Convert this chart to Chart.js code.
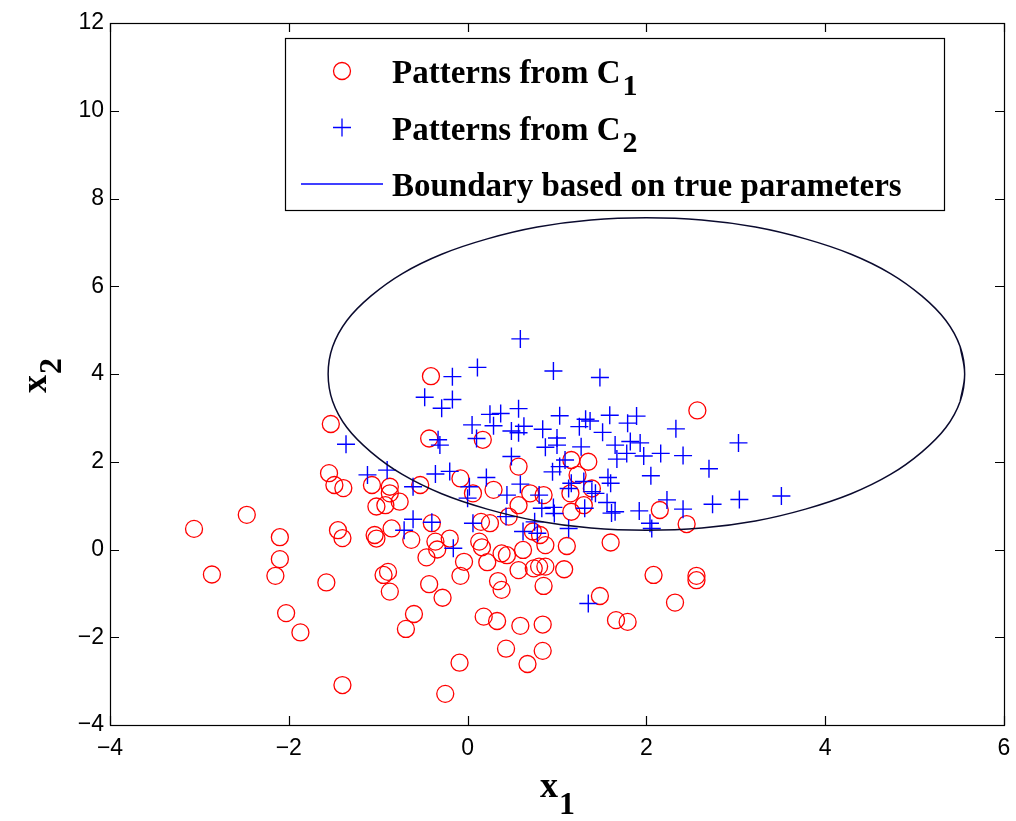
<!DOCTYPE html>
<html>
<head>
<meta charset="utf-8">
<script src="https://cdn.jsdelivr.net/npm/chart.js@4/dist/chart.umd.min.js"></script>
<style>
  body { margin: 0; background: #fff; }
  canvas { display: block; }
</style>
</head>
<body>
<canvas id="scatter" width="1016" height="821"></canvas>
<script>
// patterns from class C1 (red circles), [x1, x2]
var class1Points = [
  [-3.06, 0.47], [-2.47, 0.79], [-2.86, -0.57], [-2.10, 0.28], [-2.10, -0.22],
  [-2.15, -0.60], [-2.03, -1.45], [-1.87, -1.89], [-1.58, -0.75], [-1.40, -3.09],
  [-1.53, 2.86], [-1.55, 1.74], [-1.49, 1.47], [-1.39, 1.40], [-1.45, 0.44],
  [-1.40, 0.26], [-1.07, 1.47], [-0.87, 1.43], [-0.87, 1.28], [-0.76, 1.09],
  [-1.02, 0.98], [-0.92, 1.01], [-1.04, 0.33], [-1.02, 0.25], [-0.85, 0.48],
  [-0.53, 1.47], [-0.08, 1.62], [-0.41, 3.95], [-0.43, 2.53], [0.17, 2.50],
  [-0.40, 0.60], [-0.63, 0.22], [-0.36, 0.18], [-0.20, 0.25], [-0.34, 0.00],
  [0.13, 0.18], [0.16, 0.05], [-0.46, -0.18], [-0.04, -0.28], [0.22, -0.29],
  [0.38, -0.09], [0.44, -0.13], [0.62, -0.01], [-0.94, -0.58], [-0.89, -0.51],
  [-0.87, -0.96], [-0.08, -0.60], [0.34, -0.72], [-0.43, -0.79], [0.38, -0.92],
  [0.85, -0.83], [0.74, -0.43], [0.80, -0.39], [0.87, -0.39], [0.57, -0.47],
  [1.08, -0.45], [-0.28, -1.10], [-0.60, -1.47], [-0.69, -1.81], [0.18, -1.53],
  [0.33, -1.63], [0.59, -1.74], [0.84, -1.71], [0.43, -2.26], [0.84, -2.31],
  [0.67, -2.61], [-0.09, -2.58], [-0.25, -3.29], [0.06, 1.28], [0.29, 1.36],
  [0.57, 1.89], [0.70, 1.28], [0.85, 1.24], [0.57, 1.01], [1.16, 2.04],
  [1.35, 2.00], [1.23, 1.70], [1.39, 1.39], [1.15, 1.28], [1.30, 1.01],
  [1.16, 0.86], [0.15, 0.63], [0.25, 0.60], [0.46, 0.75], [0.73, 0.41],
  [0.81, 0.33], [0.87, 0.10], [1.11, 0.08], [2.57, 3.17], [2.15, 0.90],
  [2.45, 0.58], [1.60, 0.16], [2.08, -0.58], [2.56, -0.60], [2.56, -0.70],
  [1.48, -1.06], [2.32, -1.21], [1.66, -1.61], [1.79, -1.65]
];

// patterns from class C2 (blue crosses)
var class2Points = [
  [0.59, 4.80], [0.11, 4.15], [0.96, 4.07], [1.48, 3.92], [-0.17, 3.94],
  [-0.48, 3.47], [-0.17, 3.42], [-0.29, 3.22], [0.57, 3.21], [0.25, 3.08],
  [0.37, 3.10], [1.03, 3.05], [0.05, 2.84], [0.29, 2.82], [0.63, 2.81],
  [0.49, 2.70], [0.57, 2.66], [0.84, 2.74], [1.25, 2.80], [1.32, 2.97],
  [1.37, 2.93], [-0.33, 2.50], [-0.31, 2.38], [0.10, 2.53], [1.00, 2.54],
  [0.87, 2.33], [1.00, 2.38], [1.27, 2.34], [0.49, 2.12], [-0.90, 1.81],
  [-0.36, 1.72], [-0.20, 1.78], [0.21, 1.64], [0.95, 1.77], [1.03, 1.89],
  [1.09, 2.04], [1.59, 3.06], [1.89, 3.04], [1.79, 2.88], [1.51, 2.67],
  [2.33, 2.75], [1.65, 2.38], [1.82, 2.46], [1.93, 2.43], [1.78, 2.19],
  [1.67, 2.06], [1.97, 2.13], [2.16, 2.19], [2.41, 2.14], [3.03, 2.43],
  [2.70, 1.84], [2.05, 1.68], [1.57, 1.64], [1.60, 1.51], [1.39, 1.32],
  [1.43, 1.28], [1.56, 1.07], [1.61, 0.83], [1.65, 0.86], [1.92, 0.88],
  [2.23, 1.13], [2.41, 0.92], [2.74, 1.03], [3.04, 1.14], [3.51, 1.22],
  [2.04, 0.60], [2.06, 0.48], [-1.36, 2.40], [-1.12, 1.70], [0.02, 1.43],
  [0.00, 1.17], [0.59, 1.49], [0.44, 1.24], [0.80, 1.24], [1.13, 1.39],
  [1.16, 1.51], [1.30, 1.55], [0.83, 0.94], [0.96, 0.96], [0.97, 0.82],
  [1.31, 0.94], [-0.61, 1.43], [-0.61, 0.69], [-0.40, 0.62], [-0.71, 0.44],
  [0.06, 0.60], [0.43, 0.75], [0.62, 0.41], [0.75, 0.63], [0.78, 0.37],
  [1.13, 0.48], [-0.16, 0.03], [1.35, -1.23]
];

// decision boundary (ends overlap a little so the curve closes smoothly)
var boundaryX = [5.51, 5.56, 5.51, 5.35, 5.08, 4.73, 4.29, 3.78, 3.22, 2.62, 2.00, 1.38, 0.78,
  0.22, -0.29, -0.73, -1.08, -1.35, -1.51, -1.56, -1.51, -1.35, -1.08, -0.73, -0.29,
  0.22, 0.78, 1.38, 2.00, 2.62, 3.22, 3.78, 4.29, 4.73, 5.08, 5.35, 5.51, 5.56, 5.51];
var boundaryY = [3.38, 4.00, 4.62, 5.22, 5.78, 6.29, 6.73, 7.08, 7.35, 7.51, 7.56, 7.51, 7.35,
  7.08, 6.73, 6.29, 5.78, 5.22, 4.62, 4.00, 3.38, 2.78, 2.22, 1.71, 1.27,
  0.92, 0.65, 0.49, 0.44, 0.49, 0.65, 0.92, 1.27, 1.71, 2.22, 2.78, 3.38, 4.00, 4.62];

var xTicks = [-4, -2, 0, 2, 4, 6];
var yTicks = [-4, -2, 0, 2, 4, 6, 8, 10, 12];

var legendItems = [
  { text: 'Patterns from C', sub: '1', kind: 'circle' },
  { text: 'Patterns from C', sub: '2', kind: 'cross' },
  { text: 'Boundary based on true parameters', sub: '', kind: 'line' }
];

function toXY(list) {
  return list.map(function (p) { return { x: p[0], y: p[1] }; });
}
var boundaryData = boundaryX.map(function (v, i) { return { x: v, y: boundaryY[i] }; });

function minusLabel(v) {
  return v < 0 ? '\u2212' + Math.abs(v) : String(v);
}

var serifBold = "bold 33px 'Liberation Serif', 'Times New Roman', serif";

var decorPlugin = {
  id: 'decor',
  afterDraw: function (chart) {
    var ctx = chart.ctx;
    var a = chart.chartArea;
    var xs = chart.scales.x, ys = chart.scales.y;
    ctx.save();
    // box and inward ticks
    ctx.strokeStyle = '#000';
    ctx.lineWidth = 1.2;
    ctx.strokeRect(a.left + 0.5, a.top + 0.5, a.right - a.left, a.bottom - a.top);
    ctx.beginPath();
    xTicks.forEach(function (v) {
      var px = Math.round(xs.getPixelForValue(v)) + 0.5;
      ctx.moveTo(px, a.bottom); ctx.lineTo(px, a.bottom - 9);
      ctx.moveTo(px, a.top); ctx.lineTo(px, a.top + 9);
    });
    yTicks.forEach(function (v) {
      var py = Math.round(ys.getPixelForValue(v)) + 0.5;
      ctx.moveTo(a.left, py); ctx.lineTo(a.left + 9, py);
      ctx.moveTo(a.right, py); ctx.lineTo(a.right - 9, py);
    });
    ctx.stroke();

    // legend
    ctx.fillStyle = '#fff';
    ctx.fillRect(285, 38, 659, 172);
    ctx.strokeStyle = '#000';
    ctx.lineWidth = 1.2;
    ctx.strokeRect(285.5, 38.5, 659, 172);
    ctx.font = serifBold;
    ctx.textBaseline = 'alphabetic';
    legendItems.forEach(function (item, i) {
      var cy = 71 + i * 56.5;
      ctx.lineWidth = 1.3;
      if (item.kind === 'circle') {
        ctx.strokeStyle = '#ff0000';
        ctx.beginPath(); ctx.arc(342, cy, 8.5, 0, Math.PI * 2); ctx.stroke();
      } else if (item.kind === 'cross') {
        ctx.strokeStyle = '#0000ff';
        ctx.beginPath();
        ctx.moveTo(333, cy); ctx.lineTo(351, cy);
        ctx.moveTo(342, cy - 9); ctx.lineTo(342, cy + 9);
        ctx.stroke();
      } else {
        ctx.strokeStyle = '#0000ff';
        ctx.beginPath(); ctx.moveTo(301, cy); ctx.lineTo(383, cy); ctx.stroke();
      }
      ctx.fillStyle = '#000';
      ctx.font = serifBold;
      ctx.fillText(item.text, 392, cy + 12);
      if (item.sub) {
        var w = ctx.measureText(item.text).width;
        ctx.font = "bold 30px 'Liberation Serif', 'Times New Roman', serif";
        ctx.fillText(item.sub, 392 + w + 2, cy + 24);
      }
    });

    // axis titles
    ctx.fillStyle = '#000';
    ctx.font = "bold 36px 'Liberation Serif', 'Times New Roman', serif";
    ctx.fillText('x', 540, 797);
    ctx.font = "bold 32px 'Liberation Serif', 'Times New Roman', serif";
    ctx.fillText('1', 559, 814);

    ctx.translate(46, 393);
    ctx.rotate(-Math.PI / 2);
    ctx.font = "bold 36px 'Liberation Serif', 'Times New Roman', serif";
    ctx.fillText('x', 0, 0);
    ctx.font = "bold 32px 'Liberation Serif', 'Times New Roman', serif";
    ctx.fillText('2', 19, 15);
    ctx.restore();
  }
};

var ctx = document.getElementById('scatter');
var chart = new Chart(ctx, {
  type: 'scatter',
  data: {
    datasets: [
      {
        label: 'Patterns from C1',
        data: toXY(class1Points),
        pointStyle: 'circle',
        pointRadius: 8.5,
        backgroundColor: 'rgba(0,0,0,0)',
        borderColor: '#ff0000',
        borderWidth: 1.3,
        order: 2
      },
      {
        label: 'Patterns from C2',
        data: toXY(class2Points),
        pointStyle: 'cross',
        pointRadius: 9,
        borderColor: '#0000ff',
        backgroundColor: '#0000ff',
        borderWidth: 1.4,
        order: 1
      },
      {
        label: 'Boundary based on true parameters',
        data: boundaryData,
        showLine: true,
        tension: 0.4,
        pointRadius: 0,
        borderColor: '#0a0a2e',
        borderWidth: 1.5,
        fill: false,
        order: 0
      }
    ]
  },
  options: {
    responsive: false,
    animation: false,
    events: [],
    layout: { padding: { top: 23, right: 12, left: 0, bottom: 0 } },
    plugins: {
      legend: { display: false },
      tooltip: { enabled: false }
    },
    scales: {
      x: {
        type: 'linear',
        min: -4,
        max: 6,
        grid: { display: false, drawTicks: false },
        border: { display: false },
        afterFit: function (scale) {
          scale.height = 96;
          scale.paddingLeft = 0;
          scale.paddingRight = 0;
        },
        afterBuildTicks: function (scale) {
          scale.ticks = xTicks.map(function (v) { return { value: v }; });
        },
        ticks: {
          padding: 10,
          color: '#000',
          font: { family: "'Liberation Sans Narrow', 'Liberation Sans', Arial, sans-serif", size: 23 },
          callback: minusLabel
        }
      },
      y: {
        type: 'linear',
        min: -4,
        max: 12,
        grid: { display: false, drawTicks: false },
        border: { display: false },
        afterFit: function (scale) {
          scale.width = 110;
          scale.paddingTop = 0;
          scale.paddingBottom = 0;
        },
        afterBuildTicks: function (scale) {
          scale.ticks = yTicks.map(function (v) { return { value: v }; });
        },
        ticks: {
          padding: 6,
          color: '#000',
          font: { family: "'Liberation Sans', Arial, sans-serif", size: 23 },
          callback: minusLabel
        }
      }
    }
  },
  plugins: [decorPlugin]
});
</script>
</body>
</html>
